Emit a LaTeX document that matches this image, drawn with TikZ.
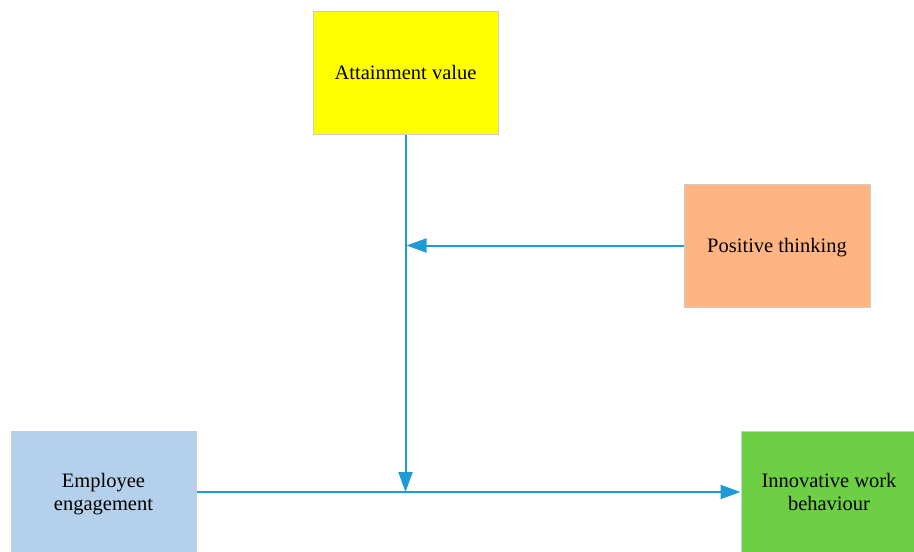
\documentclass[tikz,border=0pt]{standalone}
\usepackage{fontspec}
\setmainfont{Liberation Serif}
\usetikzlibrary{arrows.meta}
\definecolor{arrowblue}{HTML}{1E9BD7}
\definecolor{boxborder}{HTML}{CCCCCC}
\definecolor{cyellow}{HTML}{FFFF00}
\definecolor{corange}{HTML}{FFB482}
\definecolor{cblue}{HTML}{B5D0EA}
\definecolor{cgreen}{HTML}{6DCF43}
\newcommand{\boxtext}[1]{\raisebox{-2.5pt}[\height][\depth]{\begin{tabular}{@{}c@{}}#1\end{tabular}}}
\tikzset{
  box/.style={draw=boxborder, line width=1pt, align=center, inner sep=0pt,
    font=\fontsize{20.5}{23}\selectfont},
  arr/.style={draw=arrowblue, line width=2pt, -{Triangle[length=20pt,width=14pt]}}
}
\begin{document}
\begin{tikzpicture}[x=1pt,y=-1pt]
\useasboundingbox (0,0) rectangle (914,552);
\node[box, fill=cyellow, minimum width=185pt, minimum height=123pt] (att) at (405.5,72.5) {\boxtext{Attainment value}};
\node[box, fill=corange, minimum width=186pt, minimum height=123pt] (pos) at (777,245.5) {\boxtext{Positive thinking}};
\node[box, fill=cblue, minimum width=185pt, minimum height=122pt] (emp) at (103.5,492) {\boxtext{Employee\\engagement}};
\node[box, fill=cgreen, minimum width=176pt, minimum height=122pt] (inn) at (829,492) {\boxtext{Innovative work\\behaviour}};
\coordinate (j) at (att.south |- emp.east);
\coordinate (k) at ([xshift=1pt]att.south |- pos.west);
\draw[arr] (att.south) -- (j);
\draw[arr] (pos.west) -- (k);
\draw[arr] (emp.east) -- (inn.west);
\end{tikzpicture}
\end{document}
